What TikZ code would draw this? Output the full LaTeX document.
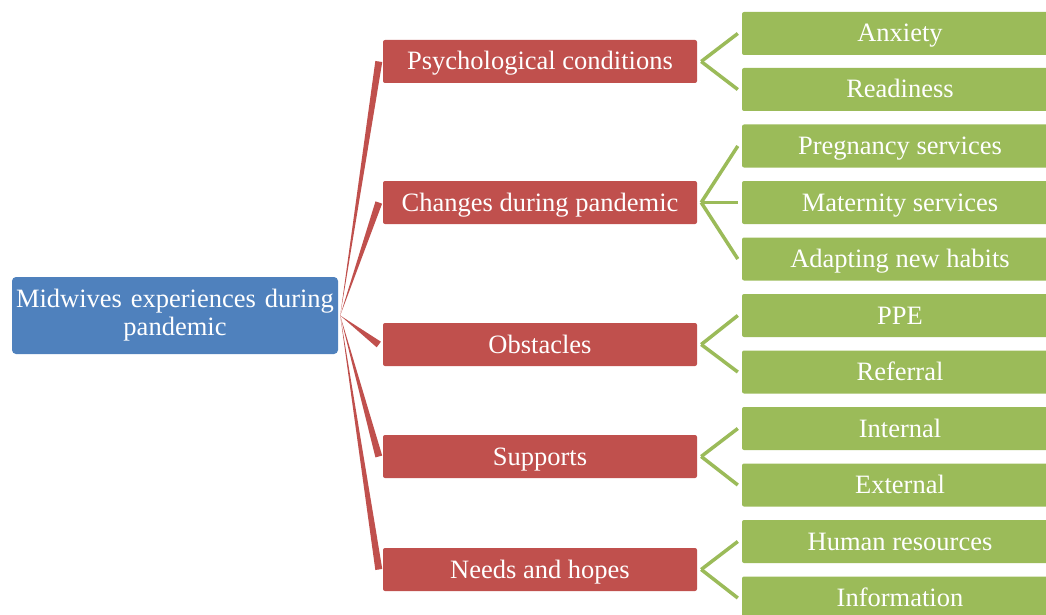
\documentclass[tikz,border=0pt]{standalone}
\usepackage{fontspec}
\setmainfont{Liberation Serif}
\usetikzlibrary{calc}
\definecolor{rootblue}{HTML}{4F81BD}
\definecolor{catred}{HTML}{C0504D}
\definecolor{leafgreen}{HTML}{9BBB59}
\begin{document}
\begin{tikzpicture}[x=1pt,y=-1pt,
  rootbox/.style={fill=rootblue, rounded corners=4pt, minimum width=326pt, minimum height=77pt, text=white, font=\fontsize{26.5}{28}\selectfont, align=center, inner sep=0pt, text width=320pt},
  catbox/.style={fill=catred, rounded corners=2pt, minimum width=314pt, minimum height=43pt, text=white, font=\fontsize{26.5}{28}\selectfont, inner sep=0pt, text height=23pt, text depth=6pt},
  leafbox/.style={fill=leafgreen, rounded corners=2pt, minimum width=316pt, minimum height=43pt, text=white, font=\fontsize{26.5}{28}\selectfont, inner sep=0pt, text height=23pt, text depth=6pt},
  redlink/.style={fill=catred},
  greenlink/.style={draw=leafgreen, line width=3.5pt}
]
\useasboundingbox (0,0) rectangle (1046,615);
\node[rootbox] (root) at (175,315.5) {Midwives experiences during\\pandemic};
\node[catbox] (c1) at (540,61.5) {Psychological conditions};
\node[catbox] (c2) at (540,202.5) {Changes during pandemic};
\node[catbox] (c3) at (540,344.5) {Obstacles};
\node[catbox] (c4) at (540,456.5) {Supports};
\node[catbox] (c5) at (540,569.5) {Needs and hopes};
\begin{scope}
\clip (0,0) rectangle (1046,615);
\node[leafbox] (l1) at (900,33.5) {Anxiety};
\node[leafbox] (l2) at (900,89.5) {Readiness};
\node[leafbox] (l3) at (900,146) {Pregnancy services};
\node[leafbox] (l4) at (900,202.5) {Maternity services};
\node[leafbox] (l5) at (900,259) {Adapting new habits};
\node[leafbox] (l6) at (900,315.5) {PPE};
\node[leafbox] (l7) at (900,372) {Referral};
\node[leafbox] (l8) at (900,428.5) {Internal};
\node[leafbox] (l9) at (900,485) {External};
\node[leafbox] (l10) at (900,541.5) {Human resources};
\node[leafbox] (l11) at (900,598) {Information};
\end{scope}
\coordinate (hub) at ($(root.east)+(2,0)$);
\foreach \c in {c1,c2,c3,c4,c5}{
  \coordinate (e) at ($(\c.west)+(-4,0)$);
  \fill[redlink] (hub) -- ($(e)!3.5pt!90:(hub)$) -- ($(e)!3.5pt!-90:(hub)$) -- cycle;
}
\foreach \c/\l in {c1/l1,c1/l2,c2/l3,c2/l4,c2/l5,c3/l6,c3/l7,c4/l8,c4/l9,c5/l10,c5/l11}{
  \draw[greenlink] ($(\c.east)+(4,0)$) -- ($(\l.west)+(-4,0)$);
}
\end{tikzpicture}
\end{document}
